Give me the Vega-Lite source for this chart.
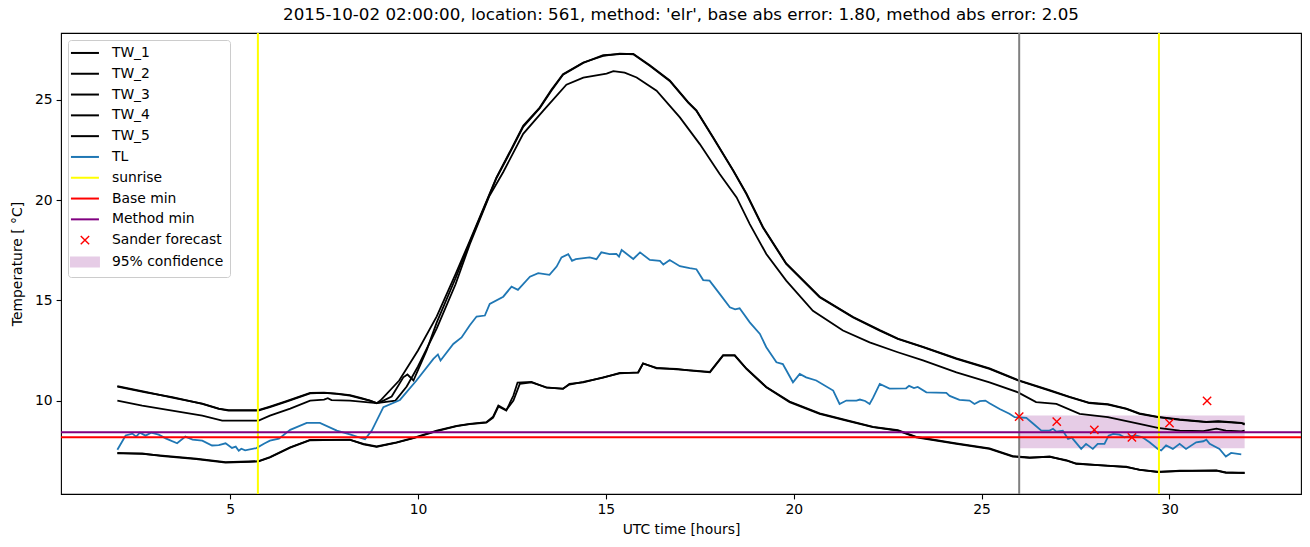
{
  "$schema": "https://vega.github.io/schema/vega-lite/v6.json",
  "width": 1240,
  "height": 461,
  "autosize": {"type": "none"},
  "padding": {"left": 61, "top": 33, "right": 9, "bottom": 53},
  "title": {
    "text": "2015-10-02 02:00:00, location: 561, method: 'elr', base abs error: 1.80, method abs error: 2.05",
    "font": "DejaVu Sans", "fontSize": 16.7, "fontWeight": "normal", "color": "black", "anchor": "middle", "offset": 8
  },
  "config": {
    "font": "DejaVu Sans",
    "view": {"stroke": "black", "strokeWidth": 1.1},
    "axis": {
      "labelFont": "DejaVu Sans", "labelFontSize": 13.9, "labelColor": "black",
      "titleFont": "DejaVu Sans", "titleFontSize": 13.9, "titleFontWeight": "normal", "titleColor": "black",
      "tickColor": "black", "tickSize": 4.9, "tickWidth": 1.1, "domain": false, "grid": false, "labelPadding": 4
    }
  },
  "datasets": {
    "lines": [
      {"s":"TW_1","t":2.0,"v":10.7},{"s":"TW_1","t":2.75,"v":10.41},{"s":"TW_1","t":3.46,"v":10.17},{"s":"TW_1","t":4.26,"v":9.83},{"s":"TW_1","t":4.7,"v":9.58},{"s":"TW_1","t":4.96,"v":9.5},{"s":"TW_1","t":5.75,"v":9.5},{"s":"TW_1","t":6.06,"v":9.67},{"s":"TW_1","t":6.5,"v":9.95},{"s":"TW_1","t":7.13,"v":10.36},{"s":"TW_1","t":7.5,"v":10.38},{"s":"TW_1","t":7.84,"v":10.33},{"s":"TW_1","t":8.19,"v":10.25},{"s":"TW_1","t":8.5,"v":10.1},{"s":"TW_1","t":8.72,"v":10.0},{"s":"TW_1","t":8.9,"v":9.87},{"s":"TW_1","t":9.0,"v":10.0},{"s":"TW_1","t":9.5,"v":11.0},{"s":"TW_1","t":10.0,"v":12.5},{"s":"TW_1","t":10.5,"v":14.2},{"s":"TW_1","t":11.0,"v":16.3},{"s":"TW_1","t":11.38,"v":17.97},{"s":"TW_1","t":12.09,"v":21.13},{"s":"TW_1","t":12.5,"v":22.6},{"s":"TW_1","t":12.8,"v":23.7},{"s":"TW_1","t":13.24,"v":24.61},{"s":"TW_1","t":13.55,"v":25.5},{"s":"TW_1","t":13.86,"v":26.28},{"s":"TW_1","t":14.4,"v":26.86},{"s":"TW_1","t":14.93,"v":27.19},{"s":"TW_1","t":15.37,"v":27.3},{"s":"TW_1","t":15.73,"v":27.27},{"s":"TW_1","t":16.17,"v":26.69},{"s":"TW_1","t":16.7,"v":25.94},{"s":"TW_1","t":17.19,"v":24.86},{"s":"TW_1","t":17.41,"v":24.45},{"s":"TW_1","t":17.85,"v":23.12},{"s":"TW_1","t":18.39,"v":21.46},{"s":"TW_1","t":18.74,"v":20.3},{"s":"TW_1","t":19.18,"v":18.63},{"s":"TW_1","t":19.8,"v":16.81},{"s":"TW_1","t":20.69,"v":15.15},{"s":"TW_1","t":21.58,"v":14.15},{"s":"TW_1","t":22.29,"v":13.49},{"s":"TW_1","t":22.77,"v":13.07},{"s":"TW_1","t":23.44,"v":12.66},{"s":"TW_1","t":24.33,"v":12.08},{"s":"TW_1","t":25.21,"v":11.58},{"s":"TW_1","t":25.97,"v":11.0},{"s":"TW_1","t":26.81,"v":10.5},{"s":"TW_1","t":27.34,"v":10.17},{"s":"TW_1","t":27.87,"v":9.87},{"s":"TW_1","t":28.36,"v":9.8},{"s":"TW_1","t":28.85,"v":9.58},{"s":"TW_1","t":29.2,"v":9.34},{"s":"TW_1","t":29.69,"v":9.17},{"s":"TW_1","t":30.27,"v":9.04},{"s":"TW_1","t":30.98,"v":8.92},{"s":"TW_1","t":31.3,"v":8.95},{"s":"TW_1","t":31.91,"v":8.87},{"s":"TW_1","t":32.0,"v":8.85},

      {"s":"TW_2","t":2.0,"v":10.72},{"s":"TW_2","t":2.75,"v":10.43},{"s":"TW_2","t":3.46,"v":10.15},{"s":"TW_2","t":4.26,"v":9.85},{"s":"TW_2","t":4.7,"v":9.6},{"s":"TW_2","t":4.96,"v":9.52},{"s":"TW_2","t":5.75,"v":9.52},{"s":"TW_2","t":6.06,"v":9.7},{"s":"TW_2","t":6.5,"v":9.97},{"s":"TW_2","t":7.13,"v":10.38},{"s":"TW_2","t":7.5,"v":10.4},{"s":"TW_2","t":7.84,"v":10.35},{"s":"TW_2","t":8.19,"v":10.27},{"s":"TW_2","t":8.5,"v":10.12},{"s":"TW_2","t":8.72,"v":10.0},{"s":"TW_2","t":8.9,"v":9.87},{"s":"TW_2","t":9.0,"v":9.92},{"s":"TW_2","t":9.3,"v":10.2},{"s":"TW_2","t":9.61,"v":11.16},{"s":"TW_2","t":9.72,"v":11.3},{"s":"TW_2","t":9.88,"v":11.0},{"s":"TW_2","t":10.23,"v":12.5},{"s":"TW_2","t":10.5,"v":13.9},{"s":"TW_2","t":11.0,"v":16.1},{"s":"TW_2","t":11.38,"v":17.9},{"s":"TW_2","t":12.09,"v":21.1},{"s":"TW_2","t":12.5,"v":22.55},{"s":"TW_2","t":12.8,"v":23.65},{"s":"TW_2","t":13.24,"v":24.58},{"s":"TW_2","t":13.55,"v":25.45},{"s":"TW_2","t":13.86,"v":26.25},{"s":"TW_2","t":14.4,"v":26.84},{"s":"TW_2","t":14.93,"v":27.22},{"s":"TW_2","t":15.37,"v":27.28},{"s":"TW_2","t":15.73,"v":27.29},{"s":"TW_2","t":16.17,"v":26.72},{"s":"TW_2","t":16.7,"v":25.97},{"s":"TW_2","t":17.19,"v":24.88},{"s":"TW_2","t":17.41,"v":24.47},{"s":"TW_2","t":17.85,"v":23.15},{"s":"TW_2","t":18.39,"v":21.48},{"s":"TW_2","t":18.74,"v":20.33},{"s":"TW_2","t":19.18,"v":18.66},{"s":"TW_2","t":19.8,"v":16.84},{"s":"TW_2","t":20.69,"v":15.18},{"s":"TW_2","t":21.58,"v":14.17},{"s":"TW_2","t":22.29,"v":13.51},{"s":"TW_2","t":22.77,"v":13.09},{"s":"TW_2","t":23.44,"v":12.68},{"s":"TW_2","t":24.33,"v":12.1},{"s":"TW_2","t":25.21,"v":11.6},{"s":"TW_2","t":25.97,"v":11.02},{"s":"TW_2","t":26.81,"v":10.52},{"s":"TW_2","t":27.34,"v":10.19},{"s":"TW_2","t":27.87,"v":9.89},{"s":"TW_2","t":28.36,"v":9.82},{"s":"TW_2","t":28.85,"v":9.6},{"s":"TW_2","t":29.2,"v":9.36},{"s":"TW_2","t":29.69,"v":9.19},{"s":"TW_2","t":30.27,"v":9.06},{"s":"TW_2","t":30.98,"v":8.94},{"s":"TW_2","t":31.3,"v":8.97},{"s":"TW_2","t":31.91,"v":8.89},{"s":"TW_2","t":32.0,"v":8.8},

      {"s":"TW_3","t":2.0,"v":10.0},{"s":"TW_3","t":2.66,"v":9.75},{"s":"TW_3","t":3.46,"v":9.5},{"s":"TW_3","t":4.26,"v":9.25},{"s":"TW_3","t":4.79,"v":9.0},{"s":"TW_3","t":5.76,"v":9.0},{"s":"TW_3","t":6.06,"v":9.25},{"s":"TW_3","t":6.6,"v":9.6},{"s":"TW_3","t":7.13,"v":10.0},{"s":"TW_3","t":7.5,"v":10.05},{"s":"TW_3","t":7.6,"v":10.12},{"s":"TW_3","t":7.7,"v":10.02},{"s":"TW_3","t":8.19,"v":10.0},{"s":"TW_3","t":8.9,"v":9.87},{"s":"TW_3","t":9.4,"v":10.0},{"s":"TW_3","t":9.7,"v":10.7},{"s":"TW_3","t":10.0,"v":11.7},{"s":"TW_3","t":10.5,"v":13.6},{"s":"TW_3","t":11.0,"v":15.8},{"s":"TW_3","t":11.38,"v":17.8},{"s":"TW_3","t":11.9,"v":20.2},{"s":"TW_3","t":12.27,"v":21.4},{"s":"TW_3","t":12.8,"v":23.3},{"s":"TW_3","t":13.33,"v":24.45},{"s":"TW_3","t":13.95,"v":25.75},{"s":"TW_3","t":14.4,"v":26.1},{"s":"TW_3","t":15.02,"v":26.3},{"s":"TW_3","t":15.2,"v":26.43},{"s":"TW_3","t":15.5,"v":26.35},{"s":"TW_3","t":15.82,"v":26.11},{"s":"TW_3","t":16.35,"v":25.45},{"s":"TW_3","t":16.97,"v":24.12},{"s":"TW_3","t":17.5,"v":22.79},{"s":"TW_3","t":18.03,"v":21.3},{"s":"TW_3","t":18.48,"v":20.13},{"s":"TW_3","t":18.83,"v":18.8},{"s":"TW_3","t":19.27,"v":17.31},{"s":"TW_3","t":19.8,"v":15.98},{"s":"TW_3","t":20.51,"v":14.48},{"s":"TW_3","t":21.31,"v":13.49},{"s":"TW_3","t":22.02,"v":12.9},{"s":"TW_3","t":22.77,"v":12.41},{"s":"TW_3","t":23.44,"v":12.0},{"s":"TW_3","t":24.33,"v":11.41},{"s":"TW_3","t":25.21,"v":10.91},{"s":"TW_3","t":25.97,"v":10.41},{"s":"TW_3","t":26.45,"v":9.92},{"s":"TW_3","t":26.99,"v":9.83},{"s":"TW_3","t":27.61,"v":9.34},{"s":"TW_3","t":28.36,"v":9.17},{"s":"TW_3","t":29.2,"v":8.84},{"s":"TW_3","t":29.69,"v":8.64},{"s":"TW_3","t":30.27,"v":8.5},{"s":"TW_3","t":30.9,"v":8.48},{"s":"TW_3","t":31.25,"v":8.6},{"s":"TW_3","t":31.5,"v":8.5},{"s":"TW_3","t":31.91,"v":8.46},{"s":"TW_3","t":32.0,"v":8.5},

      {"s":"TW_4","t":2.0,"v":7.39},{"s":"TW_4","t":2.66,"v":7.34},{"s":"TW_4","t":3.2,"v":7.25},{"s":"TW_4","t":4.1,"v":7.1},{"s":"TW_4","t":4.88,"v":6.93},{"s":"TW_4","t":5.5,"v":6.96},{"s":"TW_4","t":5.76,"v":6.98},{"s":"TW_4","t":6.06,"v":7.18},{"s":"TW_4","t":6.6,"v":7.67},{"s":"TW_4","t":7.13,"v":8.04},{"s":"TW_4","t":8.19,"v":8.04},{"s":"TW_4","t":8.55,"v":7.84},{"s":"TW_4","t":8.9,"v":7.71},{"s":"TW_4","t":9.43,"v":7.92},{"s":"TW_4","t":9.88,"v":8.14},{"s":"TW_4","t":10.5,"v":8.5},{"s":"TW_4","t":11.03,"v":8.74},{"s":"TW_4","t":11.38,"v":8.84},{"s":"TW_4","t":11.82,"v":8.92},{"s":"TW_4","t":12.0,"v":9.2},{"s":"TW_4","t":12.14,"v":9.75},{"s":"TW_4","t":12.35,"v":9.53},{"s":"TW_4","t":12.54,"v":10.0},{"s":"TW_4","t":12.71,"v":10.83},{"s":"TW_4","t":13.02,"v":10.91},{"s":"TW_4","t":13.42,"v":10.66},{"s":"TW_4","t":13.86,"v":10.58},{"s":"TW_4","t":14.03,"v":10.83},{"s":"TW_4","t":14.4,"v":10.91},{"s":"TW_4","t":14.93,"v":11.16},{"s":"TW_4","t":15.37,"v":11.36},{"s":"TW_4","t":15.86,"v":11.41},{"s":"TW_4","t":15.99,"v":11.86},{"s":"TW_4","t":16.35,"v":11.61},{"s":"TW_4","t":16.88,"v":11.58},{"s":"TW_4","t":17.19,"v":11.5},{"s":"TW_4","t":17.77,"v":11.41},{"s":"TW_4","t":18.12,"v":12.24},{"s":"TW_4","t":18.43,"v":12.24},{"s":"TW_4","t":18.74,"v":11.58},{"s":"TW_4","t":19.27,"v":10.66},{"s":"TW_4","t":19.89,"v":9.92},{"s":"TW_4","t":20.69,"v":9.34},{"s":"TW_4","t":21.4,"v":9.0},{"s":"TW_4","t":22.11,"v":8.67},{"s":"TW_4","t":22.77,"v":8.5},{"s":"TW_4","t":23.26,"v":8.17},{"s":"TW_4","t":24.33,"v":7.84},{"s":"TW_4","t":25.21,"v":7.59},{"s":"TW_4","t":25.83,"v":7.21},{"s":"TW_4","t":26.28,"v":7.14},{"s":"TW_4","t":26.81,"v":7.21},{"s":"TW_4","t":27.25,"v":7.01},{"s":"TW_4","t":27.52,"v":6.84},{"s":"TW_4","t":28.36,"v":6.76},{"s":"TW_4","t":28.85,"v":6.68},{"s":"TW_4","t":29.2,"v":6.56},{"s":"TW_4","t":29.69,"v":6.43},{"s":"TW_4","t":30.27,"v":6.5},{"s":"TW_4","t":31.25,"v":6.5},{"s":"TW_4","t":31.5,"v":6.4},{"s":"TW_4","t":32.0,"v":6.4},

      {"s":"TW_5","t":2.0,"v":7.37},{"s":"TW_5","t":2.66,"v":7.36},{"s":"TW_5","t":3.2,"v":7.23},{"s":"TW_5","t":4.1,"v":7.08},{"s":"TW_5","t":4.88,"v":6.9},{"s":"TW_5","t":5.5,"v":6.94},{"s":"TW_5","t":5.76,"v":6.97},{"s":"TW_5","t":6.06,"v":7.16},{"s":"TW_5","t":6.6,"v":7.65},{"s":"TW_5","t":7.13,"v":8.02},{"s":"TW_5","t":8.19,"v":8.05},{"s":"TW_5","t":8.55,"v":7.82},{"s":"TW_5","t":8.9,"v":7.69},{"s":"TW_5","t":9.43,"v":7.9},{"s":"TW_5","t":9.88,"v":8.12},{"s":"TW_5","t":10.5,"v":8.48},{"s":"TW_5","t":11.03,"v":8.72},{"s":"TW_5","t":11.38,"v":8.82},{"s":"TW_5","t":11.82,"v":8.9},{"s":"TW_5","t":12.0,"v":9.15},{"s":"TW_5","t":12.14,"v":9.7},{"s":"TW_5","t":12.35,"v":9.5},{"s":"TW_5","t":12.54,"v":10.25},{"s":"TW_5","t":12.65,"v":10.9},{"s":"TW_5","t":13.02,"v":10.93},{"s":"TW_5","t":13.42,"v":10.64},{"s":"TW_5","t":13.86,"v":10.6},{"s":"TW_5","t":14.03,"v":10.8},{"s":"TW_5","t":14.4,"v":10.93},{"s":"TW_5","t":14.93,"v":11.14},{"s":"TW_5","t":15.37,"v":11.38},{"s":"TW_5","t":15.86,"v":11.39},{"s":"TW_5","t":15.99,"v":11.84},{"s":"TW_5","t":16.35,"v":11.63},{"s":"TW_5","t":16.88,"v":11.56},{"s":"TW_5","t":17.19,"v":11.52},{"s":"TW_5","t":17.77,"v":11.43},{"s":"TW_5","t":18.12,"v":12.27},{"s":"TW_5","t":18.43,"v":12.27},{"s":"TW_5","t":18.74,"v":11.6},{"s":"TW_5","t":19.27,"v":10.68},{"s":"TW_5","t":19.89,"v":9.95},{"s":"TW_5","t":20.69,"v":9.36},{"s":"TW_5","t":21.4,"v":9.02},{"s":"TW_5","t":22.11,"v":8.69},{"s":"TW_5","t":22.77,"v":8.52},{"s":"TW_5","t":23.26,"v":8.19},{"s":"TW_5","t":24.33,"v":7.86},{"s":"TW_5","t":25.21,"v":7.61},{"s":"TW_5","t":25.83,"v":7.23},{"s":"TW_5","t":26.28,"v":7.16},{"s":"TW_5","t":26.81,"v":7.19},{"s":"TW_5","t":27.25,"v":7.03},{"s":"TW_5","t":27.52,"v":6.86},{"s":"TW_5","t":28.36,"v":6.74},{"s":"TW_5","t":28.85,"v":6.7},{"s":"TW_5","t":29.2,"v":6.54},{"s":"TW_5","t":29.69,"v":6.45},{"s":"TW_5","t":30.27,"v":6.48},{"s":"TW_5","t":31.25,"v":6.52},{"s":"TW_5","t":31.5,"v":6.42},{"s":"TW_5","t":32.0,"v":6.38},

      {"s":"TL","t":2.0,"v":7.55},{"s":"TL","t":2.22,"v":8.26},{"s":"TL","t":2.4,"v":8.35},{"s":"TL","t":2.5,"v":8.2},{"s":"TL","t":2.6,"v":8.4},{"s":"TL","t":2.75,"v":8.25},{"s":"TL","t":2.9,"v":8.4},{"s":"TL","t":3.1,"v":8.3},{"s":"TL","t":3.3,"v":8.1},{"s":"TL","t":3.59,"v":7.87},{"s":"TL","t":3.81,"v":8.2},{"s":"TL","t":4.0,"v":8.05},{"s":"TL","t":4.26,"v":8.0},{"s":"TL","t":4.52,"v":7.76},{"s":"TL","t":4.7,"v":7.78},{"s":"TL","t":4.88,"v":7.87},{"s":"TL","t":5.05,"v":7.64},{"s":"TL","t":5.15,"v":7.7},{"s":"TL","t":5.23,"v":7.5},{"s":"TL","t":5.3,"v":7.6},{"s":"TL","t":5.4,"v":7.52},{"s":"TL","t":5.7,"v":7.63},{"s":"TL","t":5.9,"v":7.85},{"s":"TL","t":6.06,"v":8.0},{"s":"TL","t":6.3,"v":8.1},{"s":"TL","t":6.6,"v":8.54},{"s":"TL","t":7.04,"v":8.89},{"s":"TL","t":7.39,"v":8.89},{"s":"TL","t":7.84,"v":8.5},{"s":"TL","t":8.19,"v":8.31},{"s":"TL","t":8.59,"v":8.07},{"s":"TL","t":8.77,"v":8.5},{"s":"TL","t":9.08,"v":9.67},{"s":"TL","t":9.52,"v":10.03},{"s":"TL","t":9.96,"v":11.0},{"s":"TL","t":10.41,"v":12.08},{"s":"TL","t":10.53,"v":12.3},{"s":"TL","t":10.6,"v":12.0},{"s":"TL","t":10.94,"v":12.82},{"s":"TL","t":11.16,"v":13.15},{"s":"TL","t":11.38,"v":13.76},{"s":"TL","t":11.56,"v":14.19},{"s":"TL","t":11.78,"v":14.24},{"s":"TL","t":11.91,"v":14.82},{"s":"TL","t":12.27,"v":15.18},{"s":"TL","t":12.49,"v":15.68},{"s":"TL","t":12.66,"v":15.52},{"s":"TL","t":12.98,"v":16.18},{"s":"TL","t":13.2,"v":16.35},{"s":"TL","t":13.5,"v":16.27},{"s":"TL","t":13.69,"v":16.68},{"s":"TL","t":13.82,"v":17.14},{"s":"TL","t":14.0,"v":17.3},{"s":"TL","t":14.1,"v":16.97},{"s":"TL","t":14.2,"v":17.05},{"s":"TL","t":14.57,"v":17.14},{"s":"TL","t":14.75,"v":17.05},{"s":"TL","t":14.88,"v":17.39},{"s":"TL","t":15.1,"v":17.3},{"s":"TL","t":15.28,"v":17.31},{"s":"TL","t":15.35,"v":17.18},{"s":"TL","t":15.42,"v":17.51},{"s":"TL","t":15.73,"v":17.06},{"s":"TL","t":15.91,"v":17.39},{"s":"TL","t":16.17,"v":17.01},{"s":"TL","t":16.44,"v":16.97},{"s":"TL","t":16.53,"v":16.78},{"s":"TL","t":16.7,"v":17.01},{"s":"TL","t":16.97,"v":16.7},{"s":"TL","t":17.23,"v":16.6},{"s":"TL","t":17.41,"v":16.55},{"s":"TL","t":17.59,"v":16.01},{"s":"TL","t":17.76,"v":15.98},{"s":"TL","t":18.03,"v":15.32},{"s":"TL","t":18.3,"v":14.65},{"s":"TL","t":18.44,"v":14.55},{"s":"TL","t":18.56,"v":14.6},{"s":"TL","t":18.83,"v":13.9},{"s":"TL","t":19.1,"v":13.32},{"s":"TL","t":19.27,"v":12.66},{"s":"TL","t":19.54,"v":11.91},{"s":"TL","t":19.71,"v":11.82},{"s":"TL","t":19.98,"v":10.91},{"s":"TL","t":20.16,"v":11.33},{"s":"TL","t":20.33,"v":11.16},{"s":"TL","t":20.6,"v":11.0},{"s":"TL","t":21.05,"v":10.5},{"s":"TL","t":21.22,"v":9.83},{"s":"TL","t":21.4,"v":10.0},{"s":"TL","t":21.67,"v":10.0},{"s":"TL","t":21.76,"v":10.05},{"s":"TL","t":21.9,"v":9.98},{"s":"TL","t":22.02,"v":9.83},{"s":"TL","t":22.11,"v":10.13},{"s":"TL","t":22.29,"v":10.83},{"s":"TL","t":22.55,"v":10.6},{"s":"TL","t":22.99,"v":10.61},{"s":"TL","t":23.07,"v":10.73},{"s":"TL","t":23.2,"v":10.62},{"s":"TL","t":23.3,"v":10.68},{"s":"TL","t":23.53,"v":10.41},{"s":"TL","t":24.06,"v":10.38},{"s":"TL","t":24.15,"v":10.23},{"s":"TL","t":24.41,"v":10.03},{"s":"TL","t":24.68,"v":10.0},{"s":"TL","t":24.81,"v":9.83},{"s":"TL","t":24.95,"v":9.97},{"s":"TL","t":25.1,"v":10.0},{"s":"TL","t":25.21,"v":9.87},{"s":"TL","t":25.48,"v":9.58},{"s":"TL","t":25.74,"v":9.34},{"s":"TL","t":25.88,"v":9.17},{"s":"TL","t":26.19,"v":9.14},{"s":"TL","t":26.36,"v":8.87},{"s":"TL","t":26.59,"v":8.5},{"s":"TL","t":26.81,"v":8.5},{"s":"TL","t":26.9,"v":8.59},{"s":"TL","t":26.99,"v":8.45},{"s":"TL","t":27.16,"v":8.5},{"s":"TL","t":27.3,"v":8.09},{"s":"TL","t":27.4,"v":8.15},{"s":"TL","t":27.65,"v":7.59},{"s":"TL","t":27.78,"v":7.84},{"s":"TL","t":27.96,"v":7.59},{"s":"TL","t":28.09,"v":7.84},{"s":"TL","t":28.27,"v":7.84},{"s":"TL","t":28.38,"v":8.25},{"s":"TL","t":28.5,"v":8.34},{"s":"TL","t":28.67,"v":8.3},{"s":"TL","t":28.8,"v":8.17},{"s":"TL","t":29.1,"v":8.26},{"s":"TL","t":29.28,"v":8.17},{"s":"TL","t":29.47,"v":7.92},{"s":"TL","t":29.69,"v":7.59},{"s":"TL","t":29.78,"v":7.51},{"s":"TL","t":29.91,"v":7.76},{"s":"TL","t":30.09,"v":7.59},{"s":"TL","t":30.27,"v":7.84},{"s":"TL","t":30.44,"v":7.59},{"s":"TL","t":30.71,"v":7.92},{"s":"TL","t":30.9,"v":7.97},{"s":"TL","t":30.98,"v":8.05},{"s":"TL","t":31.07,"v":7.84},{"s":"TL","t":31.33,"v":7.59},{"s":"TL","t":31.5,"v":7.21},{"s":"TL","t":31.64,"v":7.39},{"s":"TL","t":31.91,"v":7.32}
    ],
    "band": [{"s":"95% confidence","t1":26.0,"t2":32.0,"lo":7.62,"hi":9.25}],
    "vrules": [{"s":"sunrise","t":5.74},{"s":"sunrise","t":29.72}],
    "hrules": [{"s":"Base min","v":8.17},{"s":"Method min","v":8.42}],
    "gray": [{"t":26.0}],
    "forecast": [
      {"s":"Sander forecast","t":26,"v":9.2},{"s":"Sander forecast","t":27,"v":8.95},{"s":"Sander forecast","t":28,"v":8.54},
      {"s":"Sander forecast","t":29,"v":8.16},{"s":"Sander forecast","t":30,"v":8.87},{"s":"Sander forecast","t":31,"v":9.98}
    ]
  },
  "layer": [
    {
      "data": {"name": "band"},
      "mark": {"type": "rect"},
      "encoding": {
        "x": {"field": "t1", "type": "quantitative", "scale": {"domain": [0.5, 33.5], "nice": false, "zero": false},
              "axis": {"values": [5, 10, 15, 20, 25, 30], "title": "UTC time [hours]", "titlePadding": 6}},
        "x2": {"field": "t2"},
        "y": {"field": "lo", "type": "quantitative", "scale": {"domain": [5.34, 28.33], "nice": false, "zero": false},
              "axis": {"values": [10, 15, 20, 25], "title": "Temperature [ °C]", "titlePadding": 10}},
        "y2": {"field": "hi"},
        "color": {
          "field": "s", "type": "nominal",
          "scale": {
            "domain": ["TW_1","TW_2","TW_3","TW_4","TW_5","TL","sunrise","Base min","Method min","Sander forecast","95% confidence"],
            "range": ["#000000","#000000","#000000","#000000","#000000","#1f77b4","#ffff00","#ff0000","#800080","#ff0000","#e6cce6"]
          },
          "legend": {
            "title": null, "orient": "top-left", "offset": 7, "padding": 6,
            "fillColor": "white", "strokeColor": "#cccccc", "cornerRadius": 3,
            "labelFont": "DejaVu Sans", "labelFontSize": 13.9, "labelColor": "black",
            "symbolSize": 784, "labelOffset": 20, "rowPadding": 5.8, "symbolOffset": 4,
            "encode": {
              "symbols": {
                "update": {
                  "shape": {"signal": "datum.value === 'Sander forecast' ? 'M-0.3,-0.3L0.3,0.3M-0.3,0.3L0.3,-0.3' : (datum.value === '95% confidence' ? 'M-1,-0.32H1V0.32H-1Z' : 'M-1,0H1')"},
                  "size": {"value": 784},
                  "fill": {"signal": "datum.value === '95% confidence' ? '#e6cce6' : 'transparent'"},
                  "stroke": {"signal": "datum.value === '95% confidence' ? 'transparent' : scale('color', datum.value)"},
                  "strokeWidth": {"signal": "datum.value === 'Sander forecast' ? 1.4 : 2"},
                  "opacity": {"value": 1}
                }
              }
            }
          }
        }
      }
    },
    {
      "data": {"name": "lines"},
      "mark": {"type": "line", "strokeWidth": 1.8},
      "encoding": {
        "x": {"field": "t", "type": "quantitative"},
        "y": {"field": "v", "type": "quantitative"},
        "color": {"field": "s", "type": "nominal"},
        "detail": {"field": "s"}
      }
    },
    {
      "data": {"name": "gray"},
      "mark": {"type": "rule", "color": "#808080", "strokeWidth": 2},
      "encoding": {"x": {"field": "t", "type": "quantitative"}}
    },
    {
      "data": {"name": "vrules"},
      "mark": {"type": "rule", "strokeWidth": 2},
      "encoding": {"x": {"field": "t", "type": "quantitative"}, "color": {"field": "s", "type": "nominal"}}
    },
    {
      "data": {"name": "hrules"},
      "mark": {"type": "rule", "strokeWidth": 2},
      "encoding": {"y": {"field": "v", "type": "quantitative"}, "color": {"field": "s", "type": "nominal"}}
    },
    {
      "data": {"name": "forecast"},
      "mark": {"type": "point", "shape": "M-1,-1L1,1M-1,1L1,-1", "filled": false, "size": 69, "strokeWidth": 1.4, "opacity": 1},
      "encoding": {
        "x": {"field": "t", "type": "quantitative"},
        "y": {"field": "v", "type": "quantitative"},
        "color": {"field": "s", "type": "nominal"}
      }
    }
  ]
}
